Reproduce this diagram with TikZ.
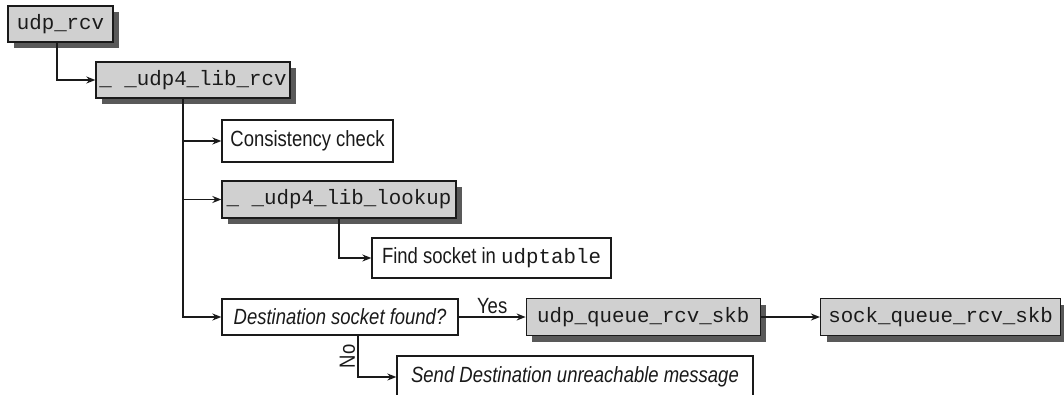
\documentclass[tikz,border=0pt]{standalone}
\usepackage{fontspec}
\setmainfont{Liberation Sans}[FakeStretch=0.84]
\newfontfamily\codefont{Liberation Mono}
\usepackage{xcolor}
\definecolor{linecolor}{HTML}{1a1a1a}
\definecolor{funcfill}{HTML}{d0d0d0}
\definecolor{shadowcolor}{HTML}{595959}
\usetikzlibrary{positioning,arrows.meta,shadows}
\tikzset{
    funcblock/.style={
        rectangle,
        draw=linecolor,
        fill=funcfill,
        text=linecolor,
        minimum height=37pt,
        inner sep=0pt,
        line width=1.3pt,
        font=\codefont\fontsize{20.8}{24}\selectfont,
        drop shadow={shadow xshift=6pt, shadow yshift=-6pt,
                     fill=shadowcolor, opacity=1},
    },
    stepblock/.style={
        rectangle,
        draw=linecolor,
        fill=white,
        text=linecolor,
        minimum height=40pt,
        inner sep=0pt,
        line width=1.3pt,
        font=\fontsize{22}{26}\selectfont,
    },
    call/.style={
        -{Stealth[length=9pt,width=7pt]},
        line width=1.8pt,
        linecolor,
    },
    label/.style={
        text=linecolor,
        font=\fontsize{22}{26}\selectfont,
    },
}

\begin{document}
\begin{tikzpicture}[x=1pt,y=-1pt]
        \useasboundingbox (0,0) rectangle (1064,395);

        \node[funcblock, minimum width=105pt, minimum height=36pt] (udprcv) at (60.5,24) {udp\_rcv};
        \node[funcblock, minimum width=194pt, minimum height=36pt] (librcv) at (193,80) {\_ \_udp4\_lib\_rcv};
        \node[stepblock, minimum width=171pt, minimum height=42pt] (consist) at (307.5,141) {Consistency check};
        \node[funcblock, minimum width=234pt] (lookup) at (339,199.5) {\_ \_udp4\_lib\_lookup};
        \node[stepblock, minimum width=239pt] (findsock) at (491.5,258) {Find socket in {\codefont\fontsize{20.8}{24}\selectfont udptable}};
        \node[stepblock, minimum width=236pt, minimum height=36pt, font=\fontsize{22}{26}\selectfont\itshape] (dest) at (340,317) {Destination socket found?};
        \node[funcblock, minimum width=234pt, right=67pt of dest] (udpqueue) {udp\_queue\_rcv\_skb};
        \node[funcblock, minimum width=240pt, right=59pt of udpqueue] (sockqueue) {sock\_queue\_rcv\_skb};
        \node[stepblock, minimum width=356pt, minimum height=42pt, font=\fontsize{22}{26}\selectfont\itshape] (sendmsg) at (575,377) {Send Destination unreachable message};

        \draw[call] ([xshift=-3.5pt]udprcv.south) |- (librcv.west);
        \draw[call] ([xshift=-10pt]librcv.south) |- (consist.west);
        \draw[call] ([xshift=-10pt]librcv.south) |- (lookup.west);
        \draw[call] ([xshift=-10pt]librcv.south) |- (dest.west);
        \draw[call] (lookup.south) |- (findsock.west);
        \draw[call] (dest.east) -- node[label, above, inner sep=2pt] {Yes} (udpqueue.west);
        \draw[call] (udpqueue.east) -- (sockqueue.west);
        \draw[call] ([xshift=18pt]dest.south) |- node[label, pos=0.25, anchor=south, rotate=90, inner sep=2pt] {No} (sendmsg.west);
    \end{tikzpicture}
\end{document}
